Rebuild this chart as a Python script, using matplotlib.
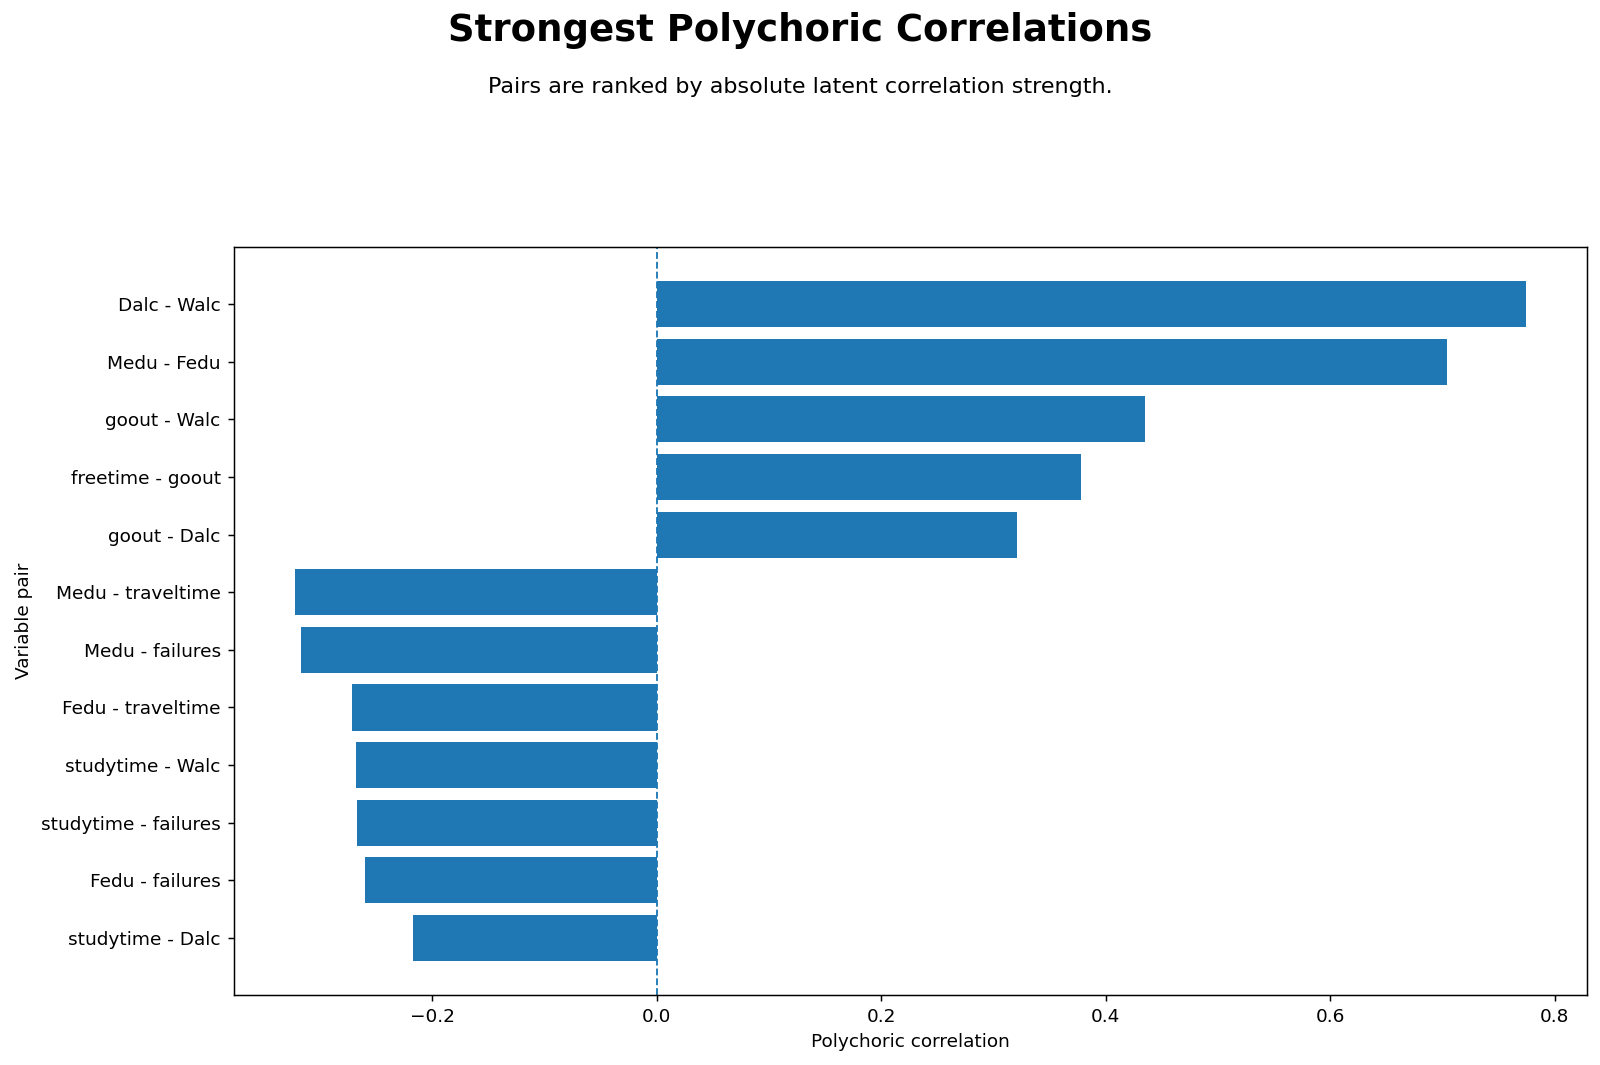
import matplotlib

matplotlib.use("Agg")
import matplotlib.pyplot as plt


PAIRS = [
    "Dalc - Walc",
    "Medu - Fedu",
    "goout - Walc",
    "freetime - goout",
    "goout - Dalc",
    "Medu - traveltime",
    "Medu - failures",
    "Fedu - traveltime",
    "studytime - Walc",
    "studytime - failures",
    "Fedu - failures",
    "studytime - Dalc",
]
CORRELATIONS = [
    0.774, 0.704, 0.435, 0.378, 0.321,
    -0.322, -0.317, -0.271, -0.268, -0.267, -0.260, -0.217,
]

DPI = 1600 / 12


def main():
    fig, ax = plt.subplots(figsize=(12, 1065 / DPI), dpi=DPI)
    fig.subplots_adjust(left=0.146, right=0.992, top=0.768, bottom=0.0657)

    # top-ranked pair at the top
    labels = PAIRS[::-1]
    values = CORRELATIONS[::-1]
    ax.barh(labels, values, color="#1f77b4")
    ax.axvline(0, linestyle="--", linewidth=1, color="#1f77b4")

    ax.set_xlabel("Polychoric correlation")
    ax.set_ylabel("Variable pair")

    fig.suptitle("Strongest Polychoric Correlations", fontsize=20, fontweight="bold",
                 y=0.971, va="center")
    fig.text(0.5, 0.918, "Pairs are ranked by absolute latent correlation strength.",
             ha="center", va="center", fontsize=12)

    fig.savefig("out.png", dpi=DPI)
    plt.close(fig)


if __name__ == "__main__":
    main()
